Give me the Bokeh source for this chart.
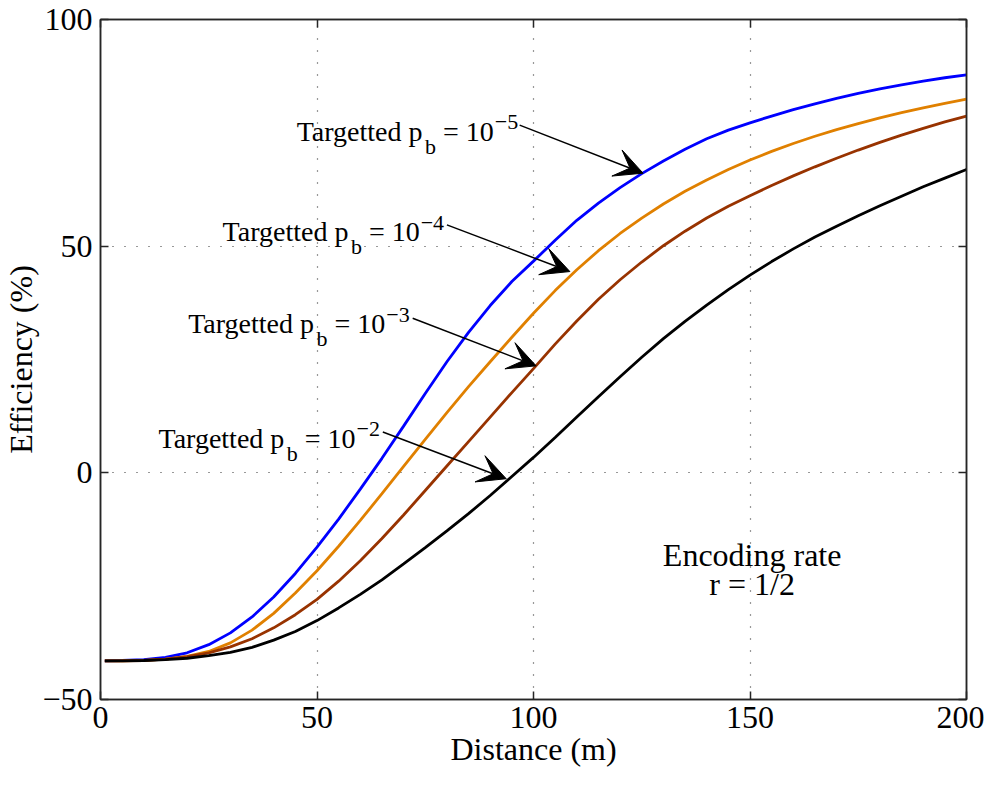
from bokeh.plotting import figure
from bokeh.models import Range1d, LinearAxis, FixedTicker, Arrow, VeeHead
from bokeh.core.properties import value
from bokeh.embed import file_html
from bokeh.resources import INLINE

# ---------------- data ----------------
distance = [1, 5, 10, 15, 20, 25, 30, 35, 40, 45, 50, 55, 60, 65, 70, 75, 80, 85, 90, 95,
            100, 105, 110, 115, 120, 125, 130, 135, 140, 145, 150, 155, 160, 165, 170, 175,
            180, 185, 190, 195, 200]

eff_pb_1e5 = [-41.5, -41.4, -41.2, -40.7, -39.7, -37.9, -35.3, -31.8, -27.4, -22.2, -16.4,
              -10.2, -3.6, 3.2, 10.3, 17.5, 24.5, 31.0, 36.9, 42.2, 46.7, 51.3, 55.7, 59.5,
              62.9, 66.0, 68.8, 71.4, 73.7, 75.6, 77.2, 78.7, 80.1, 81.4, 82.6, 83.7, 84.7,
              85.6, 86.4, 87.15, 87.8]
eff_pb_1e4 = [-41.5, -41.45, -41.35, -41.1, -40.5, -39.4, -37.5, -34.7, -31.0, -26.5, -21.6,
              -16.2, -10.5, -4.6, 1.4, 7.4, 13.3, 19.0, 24.5, 29.9, 35.2, 40.2, 44.8, 49.0,
              52.8, 56.2, 59.3, 62.1, 64.6, 66.9, 69.0, 70.9, 72.65, 74.25, 75.7, 77.05, 78.3,
              79.45, 80.5, 81.5, 82.45]
eff_pb_1e3 = [-41.5, -41.5, -41.4, -41.1, -40.55, -39.7, -38.4, -36.6, -34.2, -31.3, -27.9,
              -23.9, -19.4, -14.5, -9.3, -3.9, 1.5, 6.9, 12.3, 17.7, 23.0, 28.4, 33.5, 38.3,
              42.6, 46.5, 50.1, 53.3, 56.2, 58.8, 61.1, 63.4, 65.5, 67.5, 69.4, 71.2, 72.9,
              74.5, 76.0, 77.4, 78.7]
eff_pb_1e2 = [-41.5, -41.5, -41.4, -41.2, -40.9, -40.3, -39.6, -38.5, -36.9, -35.0, -32.6,
              -29.8, -26.8, -23.6, -20.1, -16.5, -12.8, -9.0, -5.0, -0.8, 3.4, 7.8, 12.3,
              16.8, 21.2, 25.5, 29.6, 33.4, 37.0, 40.4, 43.6, 46.6, 49.4, 52.0, 54.4, 56.7,
              58.9, 61.0, 63.1, 65.0, 66.9]

series = [eff_pb_1e5, eff_pb_1e4, eff_pb_1e3, eff_pb_1e2]
pb_exponents = ["\u22125", "\u22124", "\u22123", "\u22122"]

x_ticks = [0, 50, 100, 150, 200]
y_ticks = [-50, 0, 50, 100]
y_tick_labels = ["\u221250", "0", "50", "100"]

note_lines = ["Encoding rate", "r = 1/2"]

# ---------------- styling / layout ----------------
FONT = "Liberation Serif"
colors = ["#0000FF", "#E08000", "#983300", "#000000"]
AX = "#262626"

p = figure(width=984, height=769, output_backend="svg", toolbar_location=None,
           x_range=Range1d(0, 200), y_range=Range1d(-50, 100),
           min_border_top=19, min_border_right=18, min_border_left=97, min_border_bottom=0,
           background_fill_color="white", border_fill_color="white")
p.outline_line_color = AX
p.outline_line_width = 1.5

for ax in (p.xaxis[0], p.yaxis[0]):
    ax.major_tick_in = 8
    ax.major_tick_out = 0
    ax.minor_tick_in = 0
    ax.minor_tick_out = 0
    ax.axis_line_color = AX
    ax.axis_line_width = 1.5
    ax.major_tick_line_color = AX
    ax.major_tick_line_width = 1.5
    ax.major_label_text_font = FONT
    ax.major_label_text_font_size = "32px"
    ax.major_label_text_color = "black"
    ax.axis_label_text_font = FONT
    ax.axis_label_text_font_size = "32px"
    ax.axis_label_text_font_style = "normal"
    ax.axis_label_text_color = "black"
    ax.axis_label_standoff = 0

p.xaxis[0].ticker = FixedTicker(ticks=x_ticks)
p.yaxis[0].ticker = FixedTicker(ticks=y_ticks)
p.yaxis[0].major_label_overrides = {t: l for t, l in zip(y_ticks, y_tick_labels)}
p.xaxis[0].major_label_standoff = 7
p.yaxis[0].major_label_standoff = 8
p.xaxis[0].axis_label = "Distance (m)"
p.yaxis[0].axis_label = "Efficiency (%)"

for side, ticks in (("above", x_ticks), ("right", y_ticks)):
    ax = LinearAxis(ticker=FixedTicker(ticks=ticks), major_tick_in=8, major_tick_out=0,
                    minor_tick_in=0, minor_tick_out=0, axis_line_color=AX, axis_line_width=1.5,
                    major_tick_line_color=AX, major_tick_line_width=1.5,
                    major_label_text_font_size="0px", major_label_standoff=0,
                    major_label_overrides={t: "" for t in ticks})
    p.add_layout(ax, side)

p.xgrid.ticker = FixedTicker(ticks=x_ticks)
p.ygrid.ticker = FixedTicker(ticks=y_ticks)
for g in (p.xgrid[0], p.ygrid[0]):
    g.grid_line_color = "#333333"
    g.grid_line_dash = "1 11"
    g.grid_line_width = 1.2

for ys, c in zip(series, colors):
    p.line(distance, ys, line_color=c, line_width=2.8)

# ---------------- annotations ----------------
ann_x = [45.3, 28.2, 20.25, 13.4]
ann_y = [75.4, 53.2, 32.9, 7.6]
arrow_start = [(96.8, 76.7), (80.0, 54.7), (72.1, 34.1), (65.2, 9.0)]
arrow_end = [(125.3, 66.1), (108.4, 44.4), (100.6, 23.6), (93.7, -1.3)]

W = {"T": .611, "a": .444, "r": .333, "g": .5, "e": .444, "t": .278, "d": .5, " ": .25,
     "p": .5, "b": .5, "=": .564, "1": .5, "0": .5, "\u2212": .564}

def width(s, size):
    return sum(W.get(ch, .5) for ch in s) * size

MAIN, SCRIPT = 28, 22
w1 = width("Targetted p", MAIN)
w2 = width("b", SCRIPT) + width(" ", MAIN)
w3 = width("= 10", MAIN)

n = len(ann_x)
common = dict(text_font=value(FONT), text_color="black", text_baseline="alphabetic",
              text_align="left")
p.text(x=ann_x, y=ann_y, text=["Targetted p"] * n, text_font_size="%dpx" % MAIN, **common)
p.text(x=ann_x, y=ann_y, text=["b"] * n, x_offset=w1, y_offset=15,
       text_font_size="%dpx" % SCRIPT, **common)
p.text(x=ann_x, y=ann_y, text=["= 10"] * n, x_offset=w1 + w2,
       text_font_size="%dpx" % MAIN, **common)
p.text(x=ann_x, y=ann_y, text=pb_exponents, x_offset=w1 + w2 + w3 + 1, y_offset=-9,
       text_font_size="%dpx" % SCRIPT, **common)

for (xs, ys), (xe, ye) in zip(arrow_start, arrow_end):
    p.add_layout(Arrow(x_start=xs, y_start=ys, x_end=xe, y_end=ye, line_color="black",
                       line_width=1.5,
                       end=VeeHead(size=28, fill_color="black", line_color="black")))

p.text(x=[150.5, 150.5], y=[-18.2, -24.6], text=note_lines, text_font=value(FONT),
       text_font_size="32px", text_color="black", text_align="center",
       text_baseline="alphabetic")

open("out.html", "w").write(file_html(p, INLINE))
